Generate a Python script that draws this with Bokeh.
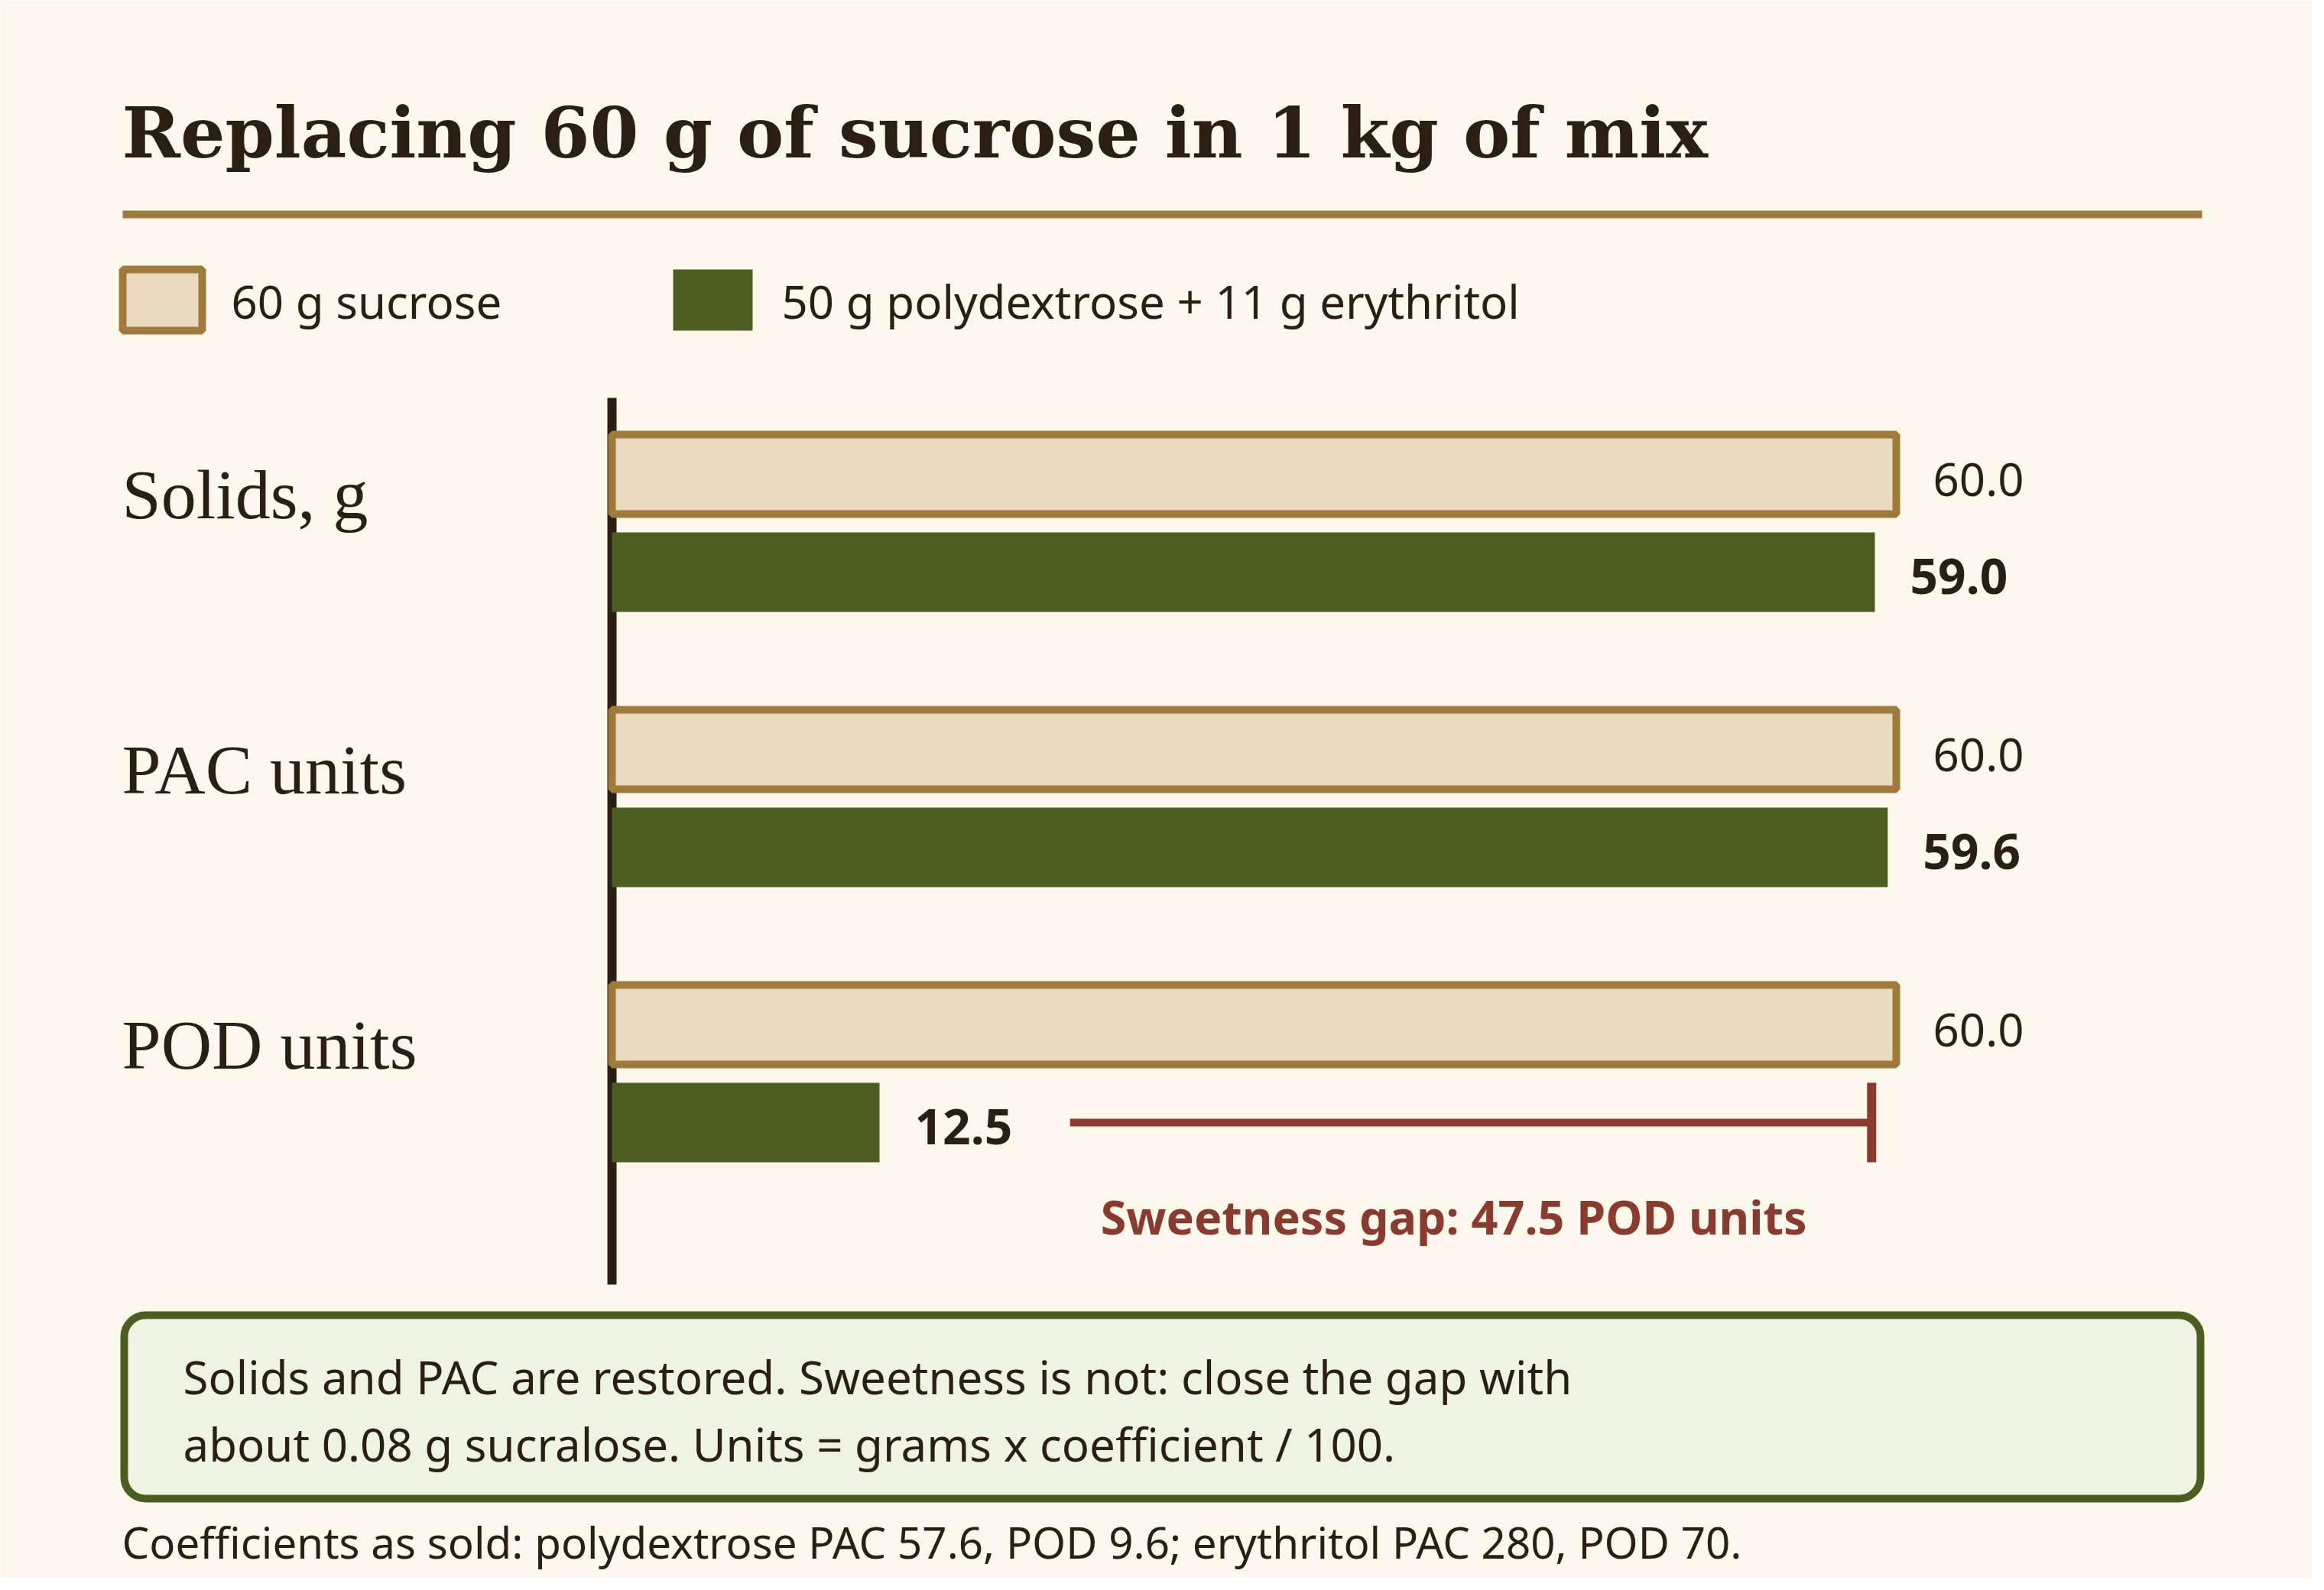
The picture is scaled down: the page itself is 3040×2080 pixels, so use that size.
from bokeh.core.properties import value
from bokeh.embed import file_html
from bokeh.models import BoxAnnotation, Range1d
from bokeh.plotting import figure
from bokeh.resources import INLINE

# data
categories = ["Solids, g", "PAC units", "POD units"]
sucrose = [60.0, 60.0, 60.0]
replacement = [59.0, 59.6, 12.5]
legend_labels = ["60 g sucrose", "50 g polydextrose + 11 g erythritol"]
gap_value = sucrose[2] - replacement[2]

title = "Replacing 60 g of sucrose in 1 kg of mix"
note_lines = [
    "Solids and PAC are restored. Sweetness is not: close the gap with",
    "about 0.08 g sucralose. Units = grams x coefficient / 100.",
]
footnote = "Coefficients as sold: polydextrose PAC 57.6, POD 9.6; erythritol PAC 280, POD 70."

# colours
BG = "#FCF8EE"
INK = "#2B1F14"
GOLD = "#A07A3A"
BEIGE = "#E8D9C0"
GREEN = "#4B5E20"
RUST = "#8B3A2E"
NOTE_BG = "#EFF3E4"

SANS = value("Noto Sans")
SERIF = value("Liberation Serif")

W, H = 3024, 2064
# layout: pixel positions on the page, value axis 28 px per unit starting at x=800
X0, PX_PER_UNIT = 800, 28
GROUP_Y0, GROUP_STEP, PAIR_GAP, BAR_H = 620, 360, 128, 104
LEFT = 159  # left edge of the text column


def base(y, size):
    # the svg text sits a bit low with an alphabetic baseline, pull it up
    return y - 0.375 * size


p = figure(width=W, height=H, output_backend="svg", toolbar_location=None,
           x_range=Range1d(-X0 / PX_PER_UNIT, (W - X0) / PX_PER_UNIT),
           y_range=Range1d(H, 0), min_border=0)
p.extra_x_ranges = {"px": Range1d(0, W)}
p.axis.visible = False
p.grid.visible = False
p.outline_line_color = None
p.background_fill_color = BG
p.border_fill_color = BG

y_old = [GROUP_Y0 + i * GROUP_STEP for i in range(len(categories))]
y_new = [y + PAIR_GAP for y in y_old]

# title and rule
p.text(x=[LEFT], y=[base(208, 92)], text=[title], x_range_name="px", text_font=value("DejaVu Serif"),
       text_font_style="bold", text_font_size="92px", text_color=INK, text_baseline="alphabetic")
p.segment(x0=[160], x1=[2880], y0=[280], y1=[280], x_range_name="px", line_color=GOLD, line_width=10)

# legend
p.rect(x=[212], y=[392], width=104, height=80, x_range_name="px",
       fill_color=BEIGE, line_color=GOLD, line_width=10)
p.rect(x=[932], y=[392], width=104, height=80, x_range_name="px",
       fill_color=GREEN, line_color=None)
p.text(x=[302, 1022], y=[base(416, 60)] * 2, text=legend_labels, x_range_name="px", text_font=SANS,
       text_font_size="60px", text_color=INK, text_baseline="alphabetic")

# value axis line
p.segment(x0=[0], x1=[0], y0=[520], y1=[1680], line_color=INK, line_width=12)

# bars
p.hbar(y=y_old, left=0, right=sucrose, height=BAR_H, fill_color=BEIGE, line_color=GOLD, line_width=10)
p.hbar(y=y_new, left=0, right=replacement, height=BAR_H, fill_color=GREEN, line_color=None)

# category labels
p.text(x=[LEFT] * 3, y=[base((a + b) / 2 - 3, 92) for a, b in zip(y_old, y_new)], text=categories,
       x_range_name="px", text_font=SERIF, text_font_size="92px", text_color=INK,
       text_baseline="alphabetic")

# value labels
p.text(x=sucrose, y=[base(y + 29, 60) for y in y_old], text=[f"{v:.1f}" for v in sucrose],
       x_offset=48, text_font=SANS, text_font_size="60px", text_color=INK,
       text_baseline="alphabetic")
p.text(x=replacement, y=[base(y + 29, 64) for y in y_new], text=[f"{v:.1f}" for v in replacement],
       x_offset=46, text_font=SANS, text_font_style="bold", text_font_size="64px",
       text_color=INK, text_baseline="alphabetic")

# sweetness gap marker
gap_start = replacement[2] + 8.9
gap_end = sucrose[2] - 1.15
p.segment(x0=[gap_start], x1=[gap_end], y0=[y_new[2]], y1=[y_new[2]], line_color=RUST, line_width=10)
p.segment(x0=[gap_end], x1=[gap_end], y0=[y_new[2] - BAR_H / 2], y1=[y_new[2] + BAR_H / 2],
          line_color=RUST, line_width=12)
p.text(x=[(gap_start + gap_end) / 2 - 0.8], y=[base(1614, 61)], text=[f"Sweetness gap: {gap_value:.1f} POD units"],
       text_font=SANS, text_font_style="bold", text_font_size="61px", text_color=RUST,
       text_align="center", text_baseline="alphabetic")

# note box
box = BoxAnnotation(left=162, right=2878, top=1720, bottom=1960, x_range_name="px",
                    fill_color=NOTE_BG, fill_alpha=1, line_color=GREEN, line_width=10,
                    line_alpha=1, border_radius=28, level="underlay")
p.add_layout(box)
p.text(x=[239, 239], y=[base(1823, 60), base(1911, 60)], text=note_lines, x_range_name="px",
       text_font=SANS, text_font_size="60px", text_color=INK, text_baseline="alphabetic")

# footnote
p.text(x=[LEFT], y=[base(2038, 56.5)], text=[footnote], x_range_name="px", text_font=SANS,
       text_font_size="56.5px", text_color=INK, text_baseline="alphabetic")

html = file_html(p, INLINE, title="Replacing sucrose")
html = html.replace("<body>", f'<body style="background:{BG}">', 1)
open("out.html", "w").write(html)
